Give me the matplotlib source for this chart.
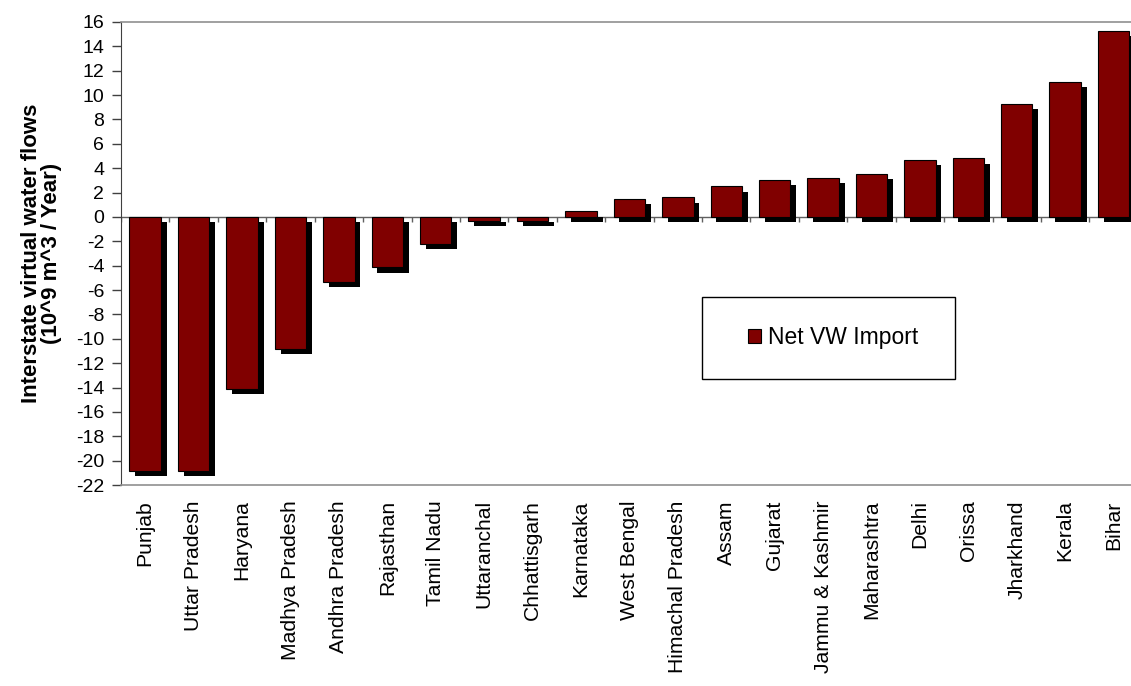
import numpy as np
import matplotlib.pyplot as plt
from matplotlib.patches import Patch, Rectangle

plt.rcParams['font.family'] = ['Liberation Sans', 'DejaVu Sans']
plt.rcParams['axes.unicode_minus'] = False

# Net virtual water import per state (10^9 m^3 / year)
states = ['Punjab', 'Uttar Pradesh', 'Haryana', 'Madhya Pradesh', 'Andhra Pradesh',
          'Rajasthan', 'Tamil Nadu', 'Uttaranchal', 'Chhattisgarh', 'Karnataka',
          'West Bengal', 'Himachal Pradesh', 'Assam', 'Gujarat', 'Jammu & Kashmir',
          'Maharashtra', 'Delhi', 'Orissa', 'Jharkhand', 'Kerala', 'Bihar']
net_import = [-20.85, -20.85, -14.15, -10.8, -5.3,
              -4.15, -2.25, -0.35, -0.35, 0.45,
              1.5, 1.6, 2.5, 3.05, 3.2,
              3.5, 4.65, 4.8, 9.3, 11.05, 15.25]

x = np.arange(len(states))
bar_w = 0.65
sx, sy = 0.12, 0.42   # shadow offset (categories, units)

fig = plt.figure(figsize=(11.31, 6.86), dpi=100)
ax = fig.add_axes([0.1070, 0.293, 0.899, 0.675])

# shadow first, then the real bars on top
ax.bar(x + sx, net_import, width=bar_w, bottom=-sy, color='black', zorder=2)
ax.bar(x, net_import, width=bar_w, color='#800000', edgecolor='black',
       linewidth=0.8, zorder=3)

# zero line with category separators
ax.axhline(0, color='#606060', linewidth=1, zorder=1)
ax.vlines(np.arange(len(states) + 1) - 0.5, -0.45, 0, color='#606060',
          linewidth=1, zorder=1)

ax.set_xlim(-0.5, len(states) - 0.5)
ax.set_ylim(-22, 16)
ax.set_yticks(np.arange(-22, 17, 2))
ax.tick_params(axis='y', direction='out', length=6.5, width=1, color='#404040',
               labelsize=14, pad=5.5)
ax.set_xticks(x)
ax.set_xticklabels(states, rotation=90, fontsize=15.2)
ax.tick_params(axis='x', length=0, pad=11)

ax.spines['left'].set_color('#404040')
for s in ['top', 'bottom', 'right']:
    ax.spines[s].set_color('#909090')
    ax.spines[s].set_linewidth(1.2)

ax.set_ylabel('Interstate virtual water flows\n(10^9 m^3 / Year)',
              fontsize=16, fontweight='bold', labelpad=10, linespacing=0.95)

# legend box (Excel style, fixed size) and its content
ax.add_patch(Rectangle((0.571, 0.229), 0.249, 0.177, transform=ax.transAxes,
                       facecolor='white', edgecolor='black', linewidth=1,
                       zorder=5))
handle = Patch(facecolor='#800000', edgecolor='black', linewidth=0.8)
leg = ax.legend([handle], ['Net VW Import'], loc='center',
                bbox_to_anchor=(0.700, 0.3175), fontsize=16.5, frameon=False,
                borderpad=0, handlelength=0.57, handleheight=0.57,
                handletextpad=0.3)
leg.set_zorder(6)

fig.savefig('out.png', dpi=100)
